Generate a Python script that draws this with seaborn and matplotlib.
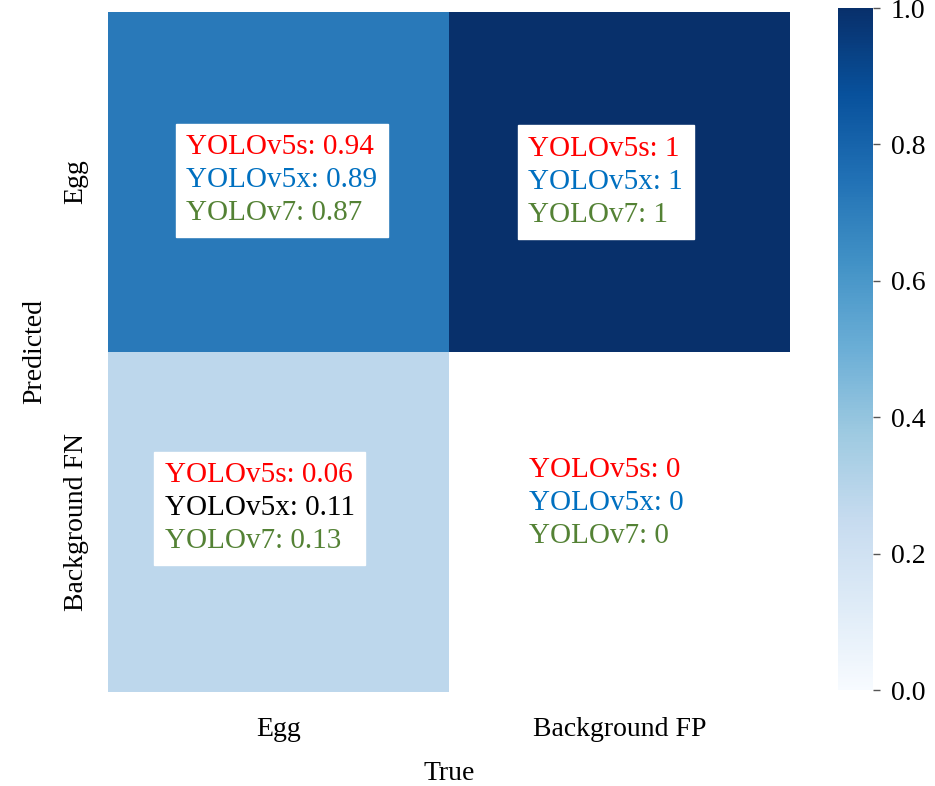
import numpy as np
import pandas as pd
import matplotlib
matplotlib.use("Agg")
import matplotlib.pyplot as plt
import seaborn as sns
from matplotlib.offsetbox import TextArea, VPacker, AnnotationBbox

# ---- data ----
true_labels = ["Egg", "Background FP"]
pred_labels = ["Egg", "Background FN"]
cell_values = [[0.72, 1.0],
               [0.28, 0.0]]
models = ["YOLOv5s", "YOLOv5x", "YOLOv7"]
# per-cell annotation values (row, col) for each model
v5s = [["0.94", "1"], ["0.06", "0"]]
v5x = [["0.89", "1"], ["0.11", "0"]]
v7 = [["0.87", "1"], ["0.13", "0"]]
model_colors = ["#ff0000", "#0070c0", "#548235"]
# colour override for one cell line (bottom-left YOLOv5x is black)
cell_color_override = {(1, 0, 1): "#000000"}

sns.set_theme(style="white")
plt.rcParams["font.family"] = ["Liberation Serif", "DejaVu Serif"]
plt.rcParams["text.color"] = "black"
plt.rcParams["axes.labelcolor"] = "black"
plt.rcParams["xtick.color"] = "black"
plt.rcParams["ytick.color"] = "black"

fig = plt.figure(figsize=(9.35, 7.86), dpi=100)
W, H = 935, 786
ax = fig.add_axes([108 / W, 1 - 692 / H, 682 / W, 680 / H])
cax = fig.add_axes([838 / W, 1 - 690 / H, 35 / W, 682 / H])

df = pd.DataFrame(cell_values, index=pred_labels, columns=true_labels)
mask = df.values == 0
sns.heatmap(df, cmap="Blues", vmin=0, vmax=1, ax=ax, cbar_ax=cax,
            annot=False, square=False, mask=mask)
ax.set_facecolor("white")

ax.set_xlabel("True", fontsize=20, labelpad=14)
ax.set_ylabel("Predicted", fontsize=20, labelpad=12)
ax.tick_params(axis="x", length=0, labelsize=20, pad=18)
ax.tick_params(axis="y", length=0, labelsize=20, pad=14)
plt.setp(ax.get_yticklabels(), rotation=90, va="center")
plt.setp(ax.get_xticklabels(), rotation=0)

cax.tick_params(labelsize=20, length=5, width=1, color="#555555", pad=8)
cax.set_yticks([0, 0.2, 0.4, 0.6, 0.8, 1.0])
cax.set_yticklabels(["0.0", "0.2", "0.4", "0.6", "0.8", "1.0"])

vals = [v5s, v5x, v7]
offsets = {(0, 0): (0.01, -0.005), (0, 1): (-0.04, 0.0),
           (1, 0): (-0.055, -0.04), (1, 1): (-0.04, -0.055)}
for r in range(2):
    for c in range(2):
        areas = []
        for m, name in enumerate(models):
            col = cell_color_override.get((r, c, m), model_colors[m])
            areas.append(TextArea(f"{name}: {vals[m][r][c]}",
                                  textprops=dict(color=col, fontsize=21,
                                                 family=["Liberation Serif", "DejaVu Serif"])))
        pack = VPacker(children=areas, align="left", pad=0, sep=5)
        dx, dy = offsets[(r, c)]
        ab = AnnotationBbox(pack, (c + 0.5 + dx, r + 0.5 + dy), xycoords="data",
                            frameon=True, pad=0.7,
                            bboxprops=dict(facecolor="white", edgecolor="white",
                                           boxstyle="square,pad=0.7"))
        ax.add_artist(ab)

fig.savefig("out.png", dpi=100, facecolor="white")
